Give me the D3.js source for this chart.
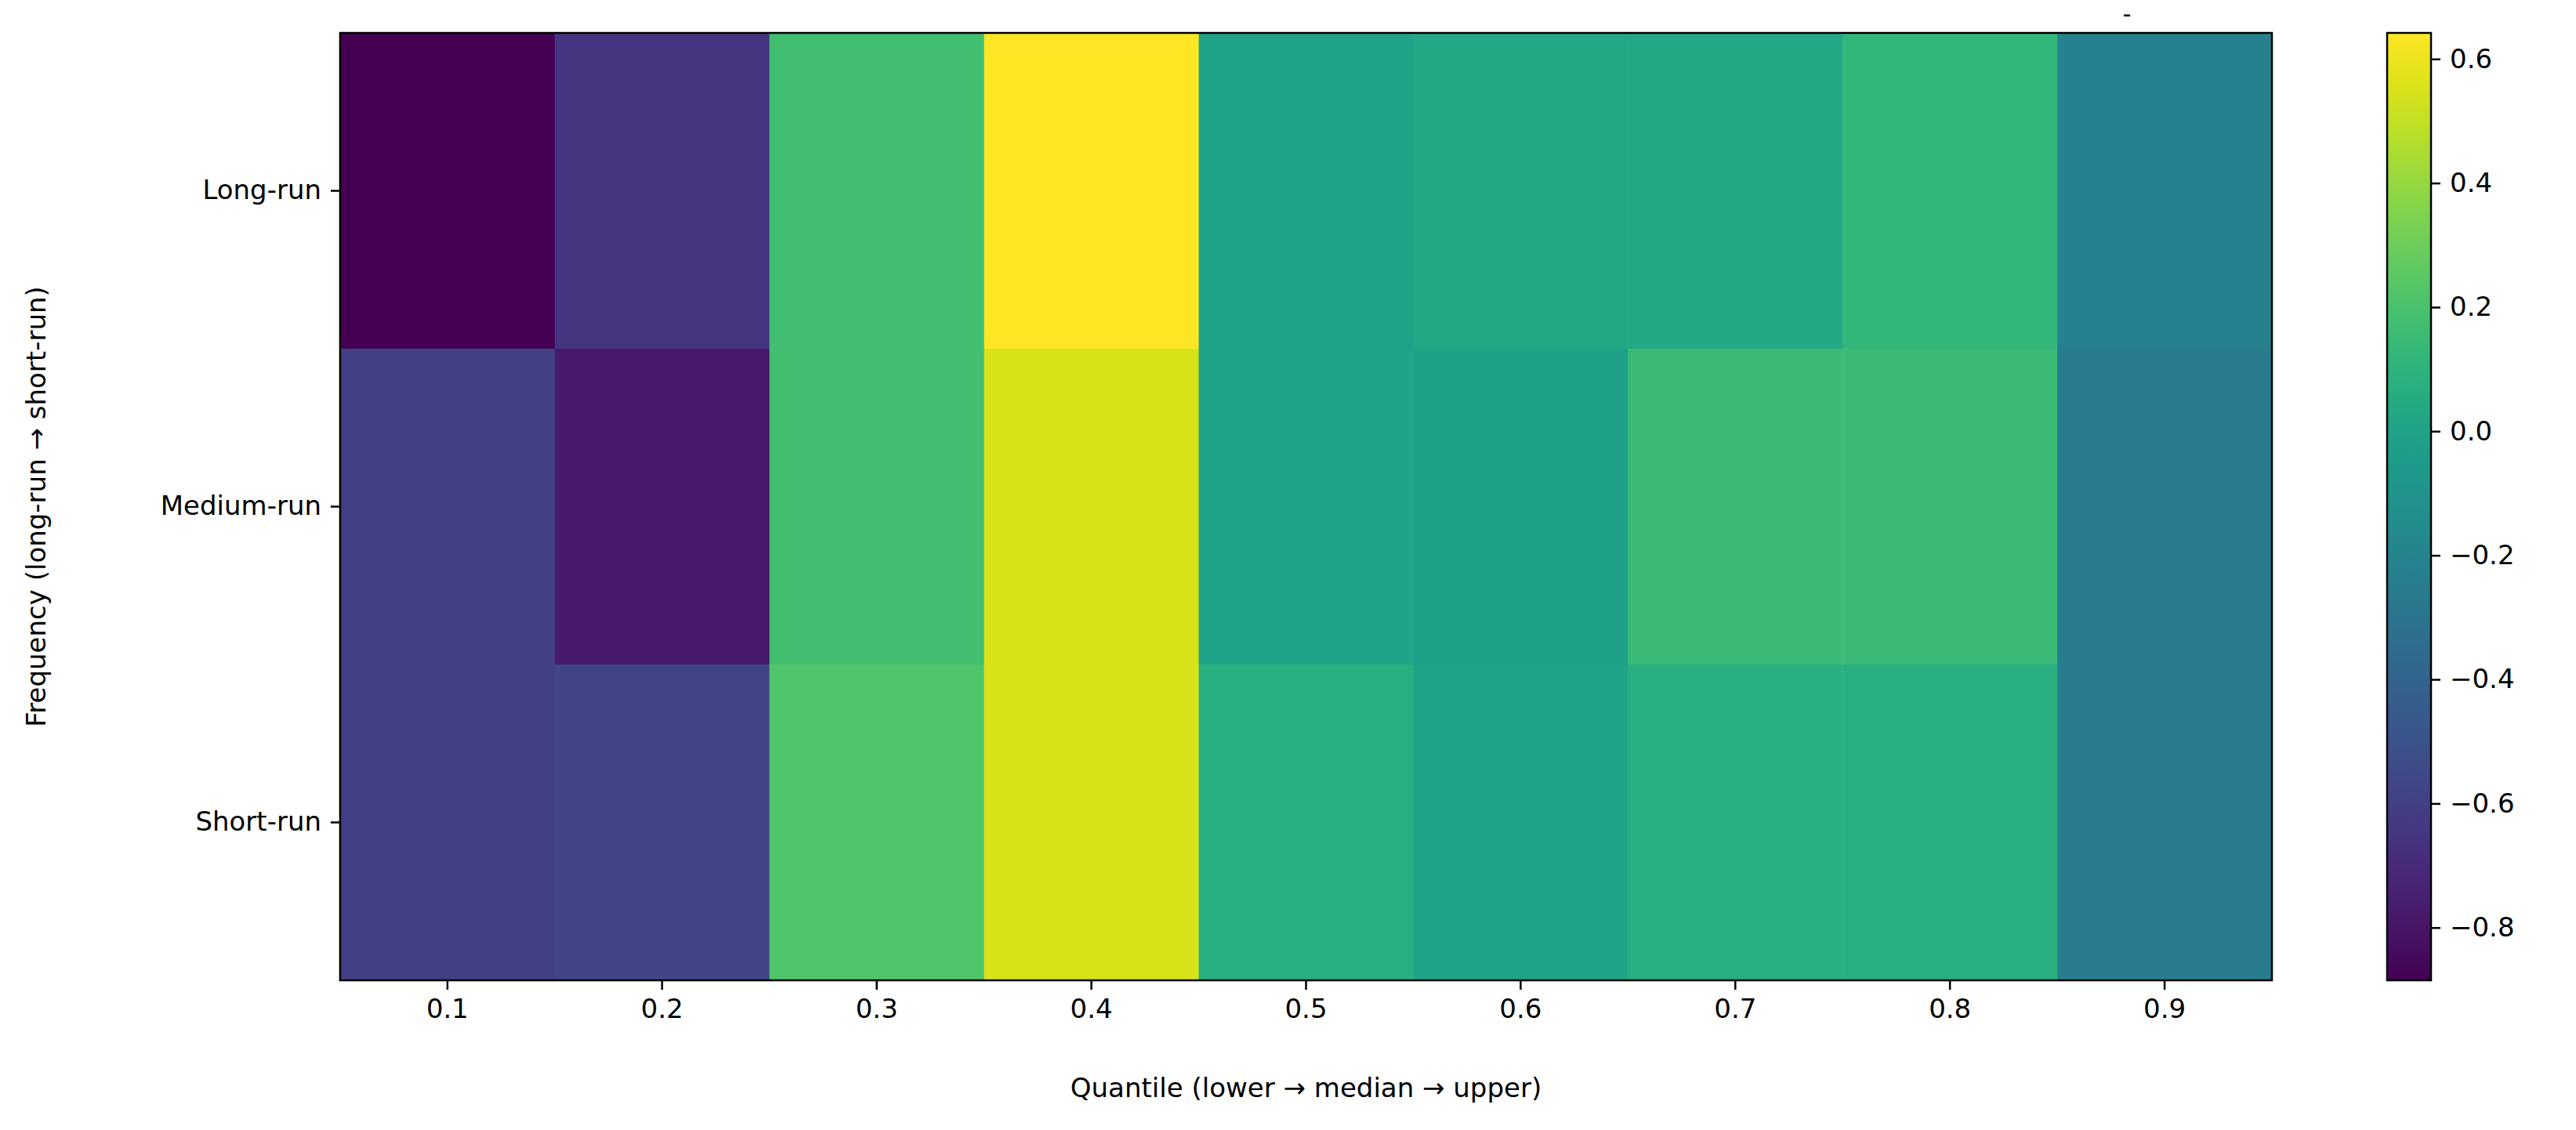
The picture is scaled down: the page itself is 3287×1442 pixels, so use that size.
<!DOCTYPE html>
<html><head><meta charset="utf-8">
<script src="https://cdn.jsdelivr.net/npm/d3@7"></script>
<style>body{margin:0;background:#fff}text{font-family:"DejaVu Sans",sans-serif;fill:#000}</style>
</head><body><svg id="c" width="3287" height="1442"></svg>
<script>
const quantiles = ["0.1","0.2","0.3","0.4","0.5","0.6","0.7","0.8","0.9"];
const frequencies = ["Long-run","Medium-run","Short-run"];
const longRun   = [-0.885,-0.65,0.18,0.642,0.0,0.03,0.03,0.12,-0.22];
const mediumRun = [-0.60,-0.78,0.18,0.55,0.0,-0.02,0.15,0.15,-0.25];
const shortRun  = [-0.60,-0.58,0.22,0.55,0.08,0.0,0.08,0.08,-0.25];
const colorTicks = [0.6,0.4,0.2,0.0,-0.2,-0.4,-0.6,-0.8];
const vmin=-0.885, vmax=0.642;
const rows=[longRun,mediumRun,shortRun];

const svg=d3.select("#c");
const L=434,R=2899,T=42,B=1251;
const x=d3.scaleBand().domain(quantiles).range([L,R]);
const y=d3.scaleBand().domain(frequencies).range([T,B]);
const color=d3.scaleSequential(d3.interpolateViridis).domain([vmin,vmax]);
const cells=[];
frequencies.forEach((f,i)=>quantiles.forEach((q,j)=>cells.push({f,q,v:rows[i][j]})));
svg.selectAll("rect.cell").data(cells).join("rect").attr("class","cell")
 .attr("x",d=>x(d.q)).attr("y",d=>y(d.f)).attr("width",x.bandwidth()+0.5).attr("height",y.bandwidth()+0.5)
 .attr("fill",d=>color(d.v));
svg.append("rect").attr("x",L).attr("y",T).attr("width",R-L).attr("height",B-T).attr("fill","none").attr("stroke","#000").attr("stroke-width",2.5);
const fs=34;
const xa=svg.append("g").attr("transform",`translate(0,${B})`).call(d3.axisBottom(x).tickSize(12).tickPadding(12));
const ya=svg.append("g").attr("transform",`translate(${L},0)`).call(d3.axisLeft(y).tickSize(12).tickPadding(12));
[xa,ya].forEach(a=>{a.select(".domain").remove();a.selectAll("line").attr("stroke-width",2.5);a.selectAll("text").style("font-size",fs+"px");});
svg.append("text").attr("x",(L+R)/2).attr("y",1400).attr("text-anchor","middle").style("font-size",fs+"px").text("Quantile (lower → median → upper)");
svg.append("text").attr("transform",`translate(58,${(T+B)/2}) rotate(-90)`).attr("text-anchor","middle").style("font-size",fs+"px").text("Frequency (long-run → short-run)");
svg.append("text").attr("x",2714).attr("y",28).attr("text-anchor","middle").style("font-size","30px").text("-");
// colorbar
const cL=3046,cW=56;
const cy=d3.scaleLinear().domain([vmin,vmax]).range([B,T]);
const defs=svg.append("defs");
const g=defs.append("linearGradient").attr("id","vg").attr("x1",0).attr("y1",1).attr("x2",0).attr("y2",0);
d3.range(0,1.0001,0.05).forEach(t=>g.append("stop").attr("offset",t).attr("stop-color",d3.interpolateViridis(t)));
svg.append("rect").attr("x",cL).attr("y",T).attr("width",cW).attr("height",B-T).attr("fill","url(#vg)").attr("stroke","#000").attr("stroke-width",2.5);
const ca=svg.append("g").attr("transform",`translate(${cL+cW},0)`).call(d3.axisRight(cy).tickValues(colorTicks).tickSize(12).tickPadding(12).tickFormat(d=>d3.format(".1f")(d).replace("-","−")));
ca.select(".domain").remove();ca.selectAll("line").attr("stroke-width",2.5);ca.selectAll("text").style("font-size",fs+"px");
</script></body></html>
